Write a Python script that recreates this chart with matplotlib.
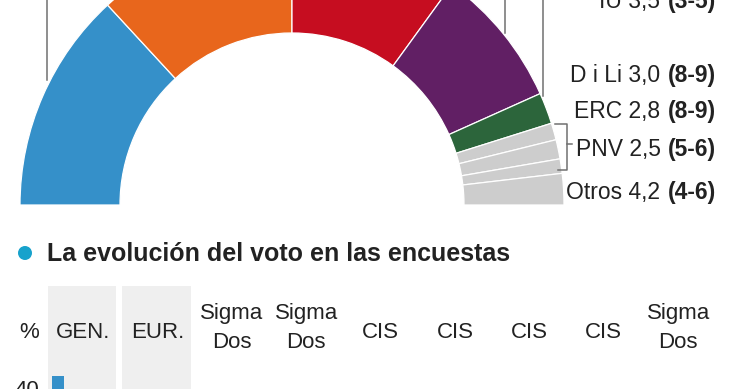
import matplotlib
matplotlib.use("Agg")
import matplotlib.pyplot as plt
from matplotlib.patches import Circle

plt.rcParams['font.family'] = ['Liberation Sans', 'DejaVu Sans']

# ---- data ----
parties = ["PP", "Ciudadanos", "PSOE", "Podemos", "ERC", "Otros1", "Otros2", "Otros3", "Otros4"]
seats = [92, 83, 70, 58, 13, 7, 8, 6, 13]
party_colors = ["#3590c9", "#e8661c", "#c60d20", "#611f64", "#2c653b",
                "#cdcdcd", "#cdcdcd", "#cdcdcd", "#cdcdcd"]
total_seats = 350

label_names = ["IU", "D i Li", "ERC", "PNV", "Otros"]
label_votes = ["3,5", "3,0", "2,8", "2,5", "4,2"]
label_ranges = ["(3-5)", "(8-9)", "(8-9)", "(5-6)", "(4-6)"]

title = "La evolución del voto en las encuestas"
columns = ["GEN.", "EUR.", "Sigma\nDos", "Sigma\nDos", "CIS", "CIS", "CIS", "CIS", "Sigma\nDos"]
shaded_columns = [0, 1]
pp_poll = [44.6, 26.1]
y_tick_labels = ["40"]

W, H = 740, 389
fig = plt.figure(figsize=(W / 100, H / 100), dpi=100)

# lower chart axes (drawn underneath)
col0, step = 83, 74.4
ax2 = fig.add_axes([0, 0, 1, 1])
ax2.set_zorder(0)
px_per_pct = 2.6
ax2.set_xlim((0 - col0) / step, (W - col0) / step)
ax2.set_ylim(40 - (389 - 388) / px_per_pct, 40 + 388 / px_per_pct)
ax2.axis("off")
for i in shaded_columns:
    ax2.axvspan(i - 0.47, i + 0.45, ymin=0, ymax=(H - 286) / H,
                color="#efefef", lw=0, zorder=0)
ax2.bar([i - 0.34 for i in range(len(pp_poll))], pp_poll, width=12 / step,
        bottom=0, color=party_colors[0], zorder=2)

ax = fig.add_axes([0, 0, 1, 1])
ax.set_zorder(1)


def Y(y):
    return H - y


# ---- half donut ----
wedges, _ = ax.pie(seats + [total_seats], colors=party_colors + ["none"],
                   startangle=180, counterclock=False,
                   center=(292, Y(205)), radius=272,
                   wedgeprops=dict(width=100, edgecolor="white", linewidth=0.9))
wedges[-1].set_visible(False)
ax.set_xlim(0, W)
ax.set_ylim(0, H)
ax.set_aspect("auto")
ax.axis("off")

lc = "#707070"
ax.plot([47, 47], [Y(0), Y(80)], color=lc, lw=1.1)
ax.plot([505, 505], [Y(0), Y(33)], color=lc, lw=1.1)
ax.plot([543, 543], [Y(0), Y(96)], color=lc, lw=1.1)
# bracket
ax.plot([555, 567, 567, 558], [Y(124), Y(124), Y(170), Y(170)], color=lc, lw=1.1)
ax.plot([567, 572], [Y(144), Y(144)], color=lc, lw=1.1)

# ---- right labels ----
fig.canvas.draw()
renderer = fig.canvas.get_renderer()
label_y = [8, 82, 118, 156, 199]
right_x = 716
for name, v, r, yb in zip(label_names, label_votes, label_ranges, label_y):
    tb = ax.text(right_x, Y(yb), r, ha="right", va="baseline", fontsize=16.5,
                 fontweight="bold", color="#222222")
    bb = tb.get_window_extent(renderer)
    ax.text(bb.x0 - 1, Y(yb), f"{name} {v} ", ha="right", va="baseline",
            fontsize=16.5, color="#222222")

# ---- title ----
ax.add_patch(Circle((25, Y(253)), 7, color="#17a2cc", lw=0))
ax.text(47, Y(261), title, ha="left", va="baseline", fontsize=18,
        fontweight="bold", color="#222222")

# ---- column headers ----
for i, c in enumerate(columns):
    x = col0 + step * i
    if "\n" in c:
        a, b = c.split("\n")
        ax.text(x, Y(313), a, ha="center", va="center", fontsize=16, color="#222222")
        ax.text(x, Y(342), b, ha="center", va="center", fontsize=16, color="#222222")
    else:
        ax.text(x, Y(333), c, ha="center", va="center", fontsize=16, color="#222222")
ax.text(29, Y(333), "%", ha="center", va="center", fontsize=16, color="#222222")
ax.text(27, Y(396), y_tick_labels[0], ha="center", va="baseline", fontsize=16,
        color="#222222")

fig.savefig("out.png", dpi=100)
